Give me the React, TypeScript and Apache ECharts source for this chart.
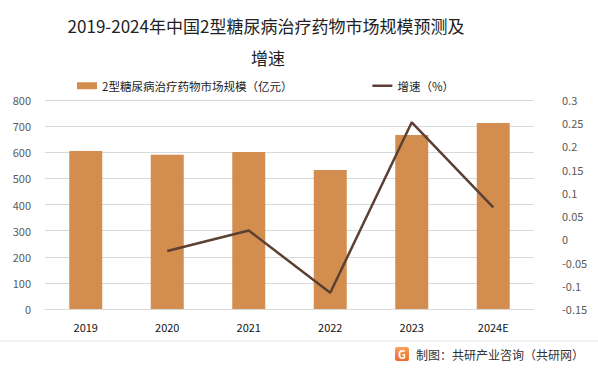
import React, { useEffect, useRef } from "react";
import * as echarts from "echarts";

const categories = ["2019", "2020", "2021", "2022", "2023", "2024E"];
const marketSize = [605, 590, 601, 532, 666, 712];
const growth = [null, -0.025, 0.019, -0.115, 0.252, 0.069];
const titleLines = ["2019-2024年中国2型糖尿病治疗药物市场规模预测及", "增速"];
const barName = "2型糖尿病治疗药物市场规模（亿元）";
const lineName = "增速（%）";
const sourceText = "制图：共研产业咨询（共研网）";

const FONT = "'Noto Sans CJK SC', 'Noto Sans', sans-serif";
const LINE_ICON = "path://M0,0L0.05,0L0.05,0.05Z M0,2.3H20V4.7H0Z M19.95,7L20,7L20,6.95Z";

export default function App() {
  const ref = useRef<HTMLDivElement>(null);
  useEffect(() => {
    if (!ref.current) return;
    const chart = echarts.init(ref.current, null, { renderer: "svg" });
    chart.setOption({
      animation: false,
      backgroundColor: "#ffffff",
      textStyle: { fontFamily: FONT },
      legend: {
        top: 75,
        left: 72,
        itemGap: 80,
        itemWidth: 20,
        itemHeight: 7,
        textStyle: { fontSize: 11.5, color: "#222", fontFamily: FONT },
        data: [
          { name: barName, icon: "rect" },
          { name: lineName, icon: LINE_ICON },
        ],
      },
      grid: { left: 45, right: 64, top: 100, bottom: 63 },
      xAxis: {
        type: "category",
        data: categories,
        axisLine: { lineStyle: { color: "#d9d9d9" } },
        axisTick: { show: false },
        axisLabel: { color: "#111", fontSize: 11, margin: 12 },
      },
      yAxis: [
        {
          type: "value",
          min: 0,
          max: 800,
          interval: 100,
          axisLine: { show: false },
          axisTick: { show: false },
          splitLine: { lineStyle: { color: "#d9d9d9" } },
          axisLabel: { color: "#595959", fontSize: 11, margin: 14 },
        },
        {
          type: "value",
          min: -0.15,
          max: 0.3,
          interval: 0.05,
          axisLine: { show: false },
          axisTick: { show: false },
          splitLine: { show: false },
          axisLabel: {
            color: "#595959",
            fontSize: 11,
            margin: 28,
            formatter: (v: number) => String(parseFloat(v.toFixed(2))),
          },
        },
      ],
      series: [
        {
          name: barName,
          type: "bar",
          data: marketSize,
          barWidth: 33,
          itemStyle: { color: "#d38d4f" },
        },
        {
          name: lineName,
          type: "line",
          yAxisIndex: 1,
          data: growth,
          symbol: "none",
          lineStyle: { color: "#5b4033", width: 2.5 },
          itemStyle: { color: "#5b4033" },
        },
      ],
      graphic: [
        {
          type: "text",
          x: 266,
          y: 25,
          style: { text: titleLines[0], fill: "#222", fontSize: 17, align: "center", verticalAlign: "middle", fontFamily: FONT },
        },
        {
          type: "text",
          x: 268,
          y: 57,
          style: { text: titleLines[1], fill: "#222", fontSize: 17, align: "center", verticalAlign: "middle", fontFamily: FONT },
        },
        { type: "line", shape: { x1: 0, y1: 341, x2: 598, y2: 341 }, style: { stroke: "#e6e6e6", lineWidth: 1 } },
        {
          type: "rect",
          shape: { x: 395, y: 347, width: 14, height: 14, r: 2 },
          style: {
            fill: new echarts.graphic.LinearGradient(0, 0, 0, 1, [
              { offset: 0, color: "#f7a35c" },
              { offset: 1, color: "#ee6a2a" },
            ]),
          },
        },
        {
          type: "text",
          x: 402,
          y: 354,
          style: { text: "G", fill: "#fff", fontSize: 11, fontWeight: "bold", align: "center", verticalAlign: "middle", fontFamily: FONT },
        },
        {
          type: "text",
          x: 416,
          y: 354,
          style: { text: sourceText, fill: "#333", fontSize: 12, verticalAlign: "middle", fontFamily: FONT },
        },
      ],
    });
    return () => chart.dispose();
  }, []);
  return <div ref={ref} style={{ width: 598, height: 372, position: "absolute", left: 0, top: 0 }} />;
}
